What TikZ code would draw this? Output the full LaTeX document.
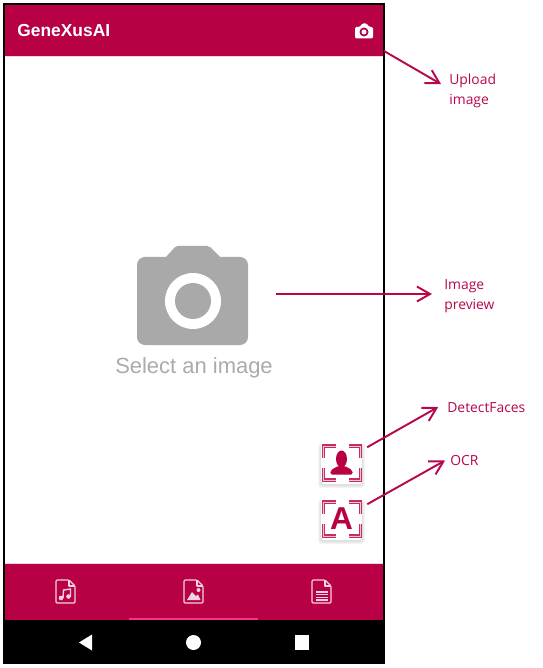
\documentclass[tikz,border=0pt]{standalone}
\usepackage{fontspec}
\setmainfont{Liberation Sans}
\newfontfamily\notefont{Open Sans}
\usetikzlibrary{arrows.meta}
\definecolor{appred}{HTML}{B80045}
\definecolor{notered}{HTML}{B8064F}
\definecolor{framered}{HTML}{C42E65}
\definecolor{framepale}{HTML}{F2C6D6}
\definecolor{iconpale}{HTML}{F3D3DE}
\definecolor{cameragray}{HTML}{A9A9A9}
\definecolor{selectgray}{HTML}{ABABAB}
\newcommand\phoneleft{4.1}
\newcommand\phoneright{384}
\newcommand\phonetop{4.2}
\newcommand\phonebottom{663}
\newcommand\headerbottom{56}
\newcommand\tabtop{564}
\newcommand\tabbottom{620}
\tikzset{
    x=0.02cm, y=-0.02cm,
    notelabel/.style = {anchor=west, inner sep=0pt, align=left, text=notered,
        font=\notefont\fontsize{7.9}{11.3}\selectfont},
    notearrow/.style = {-{Straight Barb[length=7.5pt,width=8.5pt,line width=1.1pt]}, notered, line width=1.1pt},
    fabbox/.style = {fill=white, rounded corners=1.5pt, minimum width=23.2pt, minimum height=23.8pt, inner sep=0pt},
    iconline/.style = {iconpale, line width=0.65pt, line join=round},
    fileicon/.pic = {
        \draw[iconline, rounded corners=0.6pt] (0,0) -- (13,0) -- (19,6) -- (19,23) -- (0,23) -- cycle;
        \draw[iconline] (13,0) -- (13,6) -- (19,6);
    },
    scanframe/.pic = {
        \draw[framered, line width=0.7pt, double=framepale, double distance=0.4pt]
            (0,12) -- (0,0) -- (12,0) (25,0) -- (37,0) -- (37,12)
            (37,22) -- (37,34) -- (25,34) (12,34) -- (0,34) -- (0,22);
    },
}
\begin{document}
\begin{tikzpicture}
    \useasboundingbox (0,0) rectangle (542,668);
    \fill[white] (0,0) rectangle (542,668);
    % --- Header
    \fill[appred] (\phoneleft,\phonetop) rectangle (\phoneright,\headerbottom);
    \draw[iconpale, line width=0.4pt] (\phoneleft,\headerbottom+0.5) -- (\phoneright,\headerbottom+0.5);
    \node[anchor=west, inner sep=0pt, text=white, font=\bfseries\fontsize{9.9}{12}\selectfont] (title) at (17,31) {GeneXusAI};
    % --- Small camera
    \fill[white, rounded corners=0.8pt] (355,27) -- (360,27) -- (362,23.5) -- (367,23.5) -- (369,27) -- (373,27) -- (373,38.5) -- (355,38.5) -- cycle;
    \fill[appred] (364,32) circle [radius=4.5];
    \fill[white] (364,32) circle [radius=2.5];
    % --- Big camera
    \fill[cameragray, rounded corners=4.5pt] (137,257) rectangle (248,345);
    \fill[cameragray, rounded corners=1pt] (165,258) -- (176,246) -- (209,246) -- (221,258) -- cycle;
    \fill[white] (193,301) circle [radius=28];
    \fill[cameragray] (193,301) circle [radius=18];
    \node[text=selectgray, inner sep=0pt, font=\fontsize{12.5}{15}\selectfont] (select) at (194,367.5) {Select an image};
    % --- Buttons
    \foreach \fabtop in {442,498} {
        \foreach \grow in {1,2,3} {
            \fill[black, opacity=0.04, rounded corners=2pt] (321-\grow,\fabtop+4-\grow) rectangle (362+\grow,\fabtop+43+\grow);
        }
    }
    \node[fabbox] (facesbtn) at (341.5,463) {};
    \node[fabbox, text=appred, font=\bfseries\fontsize{18}{18}\selectfont] (ocrbtn) at (341.5,519) {A};
    \pic at (323.5,446) {scanframe};
    \pic at (323.5,502) {scanframe};
    \fill[appred] (341.5,459) ellipse [x radius=5.5, y radius=8.5];
    \fill[appred, rounded corners=1pt] (330,474.5) -- (331,470) -- (338,466) -- (345,466) -- (352,470) -- (353,474.5) -- cycle;
    % --- Tab bar
    \fill[appred] (\phoneleft,\tabtop) rectangle (\phoneright,\tabbottom);
    \draw[iconpale, line width=0.4pt] (\phoneleft,\tabtop-0.5) -- (\phoneright,\tabtop-0.5);
    \pic at (56,580) {fileicon};
    \pic at (184,580) {fileicon};
    \pic at (312,580) {fileicon};
    % --- Music note
    \fill[iconpale] (61,598) circle [radius=2.3] (68.5,596.5) circle [radius=2.3];
    \draw[iconpale, line width=0.8pt] (63,598) -- (63.5,590) -- (70.5,589) -- (70.5,596.5);
    % --- Landscape
    \fill[iconpale] (187,600) -- (192,592) -- (196,596) -- (198,594.5) -- (200.5,600) -- cycle;
    \fill[iconpale] (198.5,590) circle [radius=2];
    % --- Text lines
    \foreach \liney in {592,594.7,597.4,600} {
        \draw[iconpale, line width=0.65pt] (316,\liney) -- (328,\liney);
    }
    \fill[red!60!magenta!80!white] (129,618) rectangle (258,620);
    % --- Navigation bar
    \fill[black] (3.2,\tabbottom) rectangle (385,663.5);
    \fill[white] (79,642.5) -- (92,634.5) -- (92,650.5) -- cycle;
    \fill[white] (193.5,642.5) circle [radius=7.5];
    \fill[white] (295,635) rectangle (309,650);
    % --- Phone outline
    \draw[black, line width=1pt] (\phoneleft,\phonetop) rectangle (\phoneright,\phonebottom);
    % --- Labels
    \node[notelabel] (uploadlabel) at (449,90.5) {Upload\\image};
    \node[notelabel] (previewlabel) at (444,296.5) {Image\\preview};
    \node[notelabel] (faceslabel) at (447,408) {DetectFaces};
    \node[notelabel] (ocrlabel) at (450,460.5) {OCR};
    % --- Arrows
    \coordinate (uploadstart) at (\phoneright,51);
    \coordinate (previewstart) at (276,294);
    \draw[notearrow] (uploadstart) -- ([shift={(-4.5pt,3.6pt)}]uploadlabel.west);
    \draw[notearrow] (previewstart) -- ([xshift=-6.8pt]previewlabel.west |- previewstart);
    \draw[notearrow, shorten <=3.2pt] (facesbtn.32) -- ([shift={(-5pt,0.6pt)}]faceslabel.west);
    \draw[notearrow, shorten <=3.3pt] (ocrbtn.30) -- ([xshift=-2.8pt]ocrlabel.west);
\end{tikzpicture}
\end{document}
